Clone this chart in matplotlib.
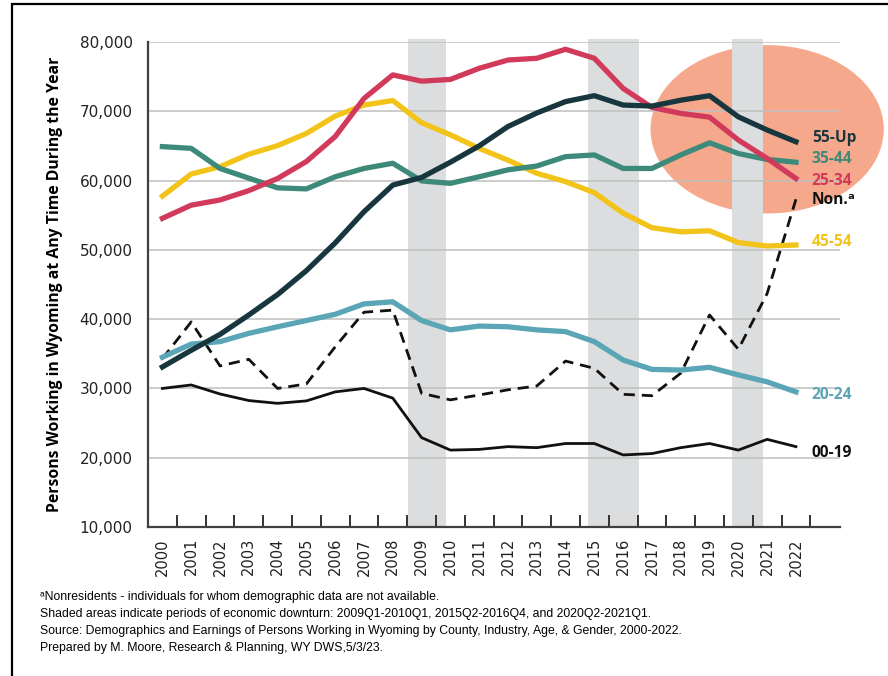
import numpy as np
import matplotlib.pyplot as plt
from matplotlib.patches import Ellipse, Rectangle

years = list(range(2000, 2023))

# persons working at any time during the year, by age group
age_00_19 = [30000, 30500, 29200, 28250, 27850, 28200, 29500, 30000, 28600, 22900,
             21100, 21200, 21600, 21450, 22050, 22050, 20400, 20600, 21450, 22050,
             21100, 22650, 21600]
age_20_24 = [34500, 36400, 36750, 37950, 38900, 39800, 40700, 42200, 42500, 39800,
             38450, 39000, 38900, 38450, 38200, 36750, 34100, 32750, 32650, 33050,
             31950, 30950, 29500]
age_25_34 = [54550, 56450, 57200, 58550, 60300, 62750, 66350, 71850, 75250, 74350,
             74600, 76200, 77400, 77650, 78950, 77650, 73300, 70550, 69700, 69150,
             65850, 63200, 60300]
age_35_44 = [64900, 64650, 61750, 60350, 58950, 58800, 60550, 61750, 62500, 59950,
             59600, 60550, 61550, 62100, 63450, 63700, 61750, 61750, 63700, 65450,
             63900, 63050, 62650]
age_45_54 = [57750, 60950, 62000, 63800, 65050, 66800, 69300, 70900, 71550, 68350,
             66600, 64650, 62950, 61050, 59850, 58250, 55300, 53200, 52600, 52750,
             51050, 50550, 50700]
age_55_up = [33100, 35500, 37800, 40600, 43550, 47000, 51000, 55500, 59350, 60450,
             62650, 65000, 67800, 69750, 71400, 72250, 70900, 70750, 71600, 72250,
             69200, 67300, 65600]
nonres = [34300, 39600, 33250, 34200, 30000, 30650, 36000, 41000, 41300, 29300,
          28350, 29050, 29800, 30350, 33950, 32900, 29150, 28950, 32200, 40600,
          35650, 43700, 57300]

# downturn periods in category units (year index)
downturns = [(8.53, 9.85), (14.78, 16.55), (19.78, 20.85)]

fig = plt.figure(figsize=(8.88, 6.76), dpi=100)
ax = fig.add_axes([148/888, 1-527/676, (840-148)/888, (527-42)/676])

x = np.arange(len(years))

# outer frame
fig.add_artist(Rectangle((12/888, -0.05), 1.0, 1-4/676+0.05, transform=fig.transFigure,
                         fill=False, ec='black', lw=1.6))

# highlight ellipse
ell = Ellipse((21.0, 67400), 8.1, 24300, fc='#F5A88C', ec='none', zorder=0.5, clip_on=False)
ax.add_patch(ell)

for a, b in downturns:
    ax.axvspan(a, b, ymin=0, ymax=1.006, color='#DCDDDF', lw=0, zorder=1, clip_on=False)

ax.set_xlim(-0.5, 23.53)
ax.set_ylim(10000, 80000)
ax.set_yticks(range(10000, 80001, 10000))
ax.set_yticklabels(['{:,}'.format(v) for v in range(10000, 80001, 10000)])
ax.yaxis.grid(True, color='#BFBFBF', lw=1.1, zorder=1.5)
ax.set_axisbelow(False)
ax.tick_params(axis='y', length=0, pad=11, labelsize=11, labelcolor='#222222')

ax.set_xticks(x)
ax.set_xticklabels([str(y) for y in years], rotation=90)
ax.set_xticks(np.arange(0.5, 23, 1), minor=True)
ax.tick_params(axis='x', which='major', length=0, pad=8, labelsize=10.5, labelcolor='#222222')
ax.tick_params(axis='x', which='minor', direction='in', length=9, width=1.4, color='#333333')

for s in ['top', 'right']:
    ax.spines[s].set_visible(False)
for s in ['left', 'bottom']:
    ax.spines[s].set_color('#404040')
    ax.spines[s].set_linewidth(1.6)
    ax.spines[s].set_zorder(3)

ax.plot(x, age_00_19, color='#111111', lw=2.0, zorder=4)
ax.plot(x, nonres, color='#111111', lw=2.0, ls=(0, (4, 2.5)), zorder=4)
ax.plot(x, age_20_24, color='#5AA5B6', lw=3.8, zorder=4)
ax.plot(x, age_45_54, color='#F2C318', lw=3.8, zorder=4)
ax.plot(x, age_35_44, color='#3E8A7A', lw=3.8, zorder=4)
ax.plot(x, age_25_34, color='#D13A5B', lw=3.8, zorder=4)
ax.plot(x, age_55_up, color='#17363D', lw=3.8, zorder=4)

fam = ['Open Sans', 'DejaVu Sans']
lab = dict(fontsize=11.2, fontweight='bold', family=fam, va='center', ha='left')
ax.text(22.55, 66150, '55-Up', color='#17363D', **lab)
ax.text(22.55, 63100, '35-44', color='#3E8A7A', **lab)
ax.text(22.55, 59900, '25-34', color='#D13A5B', **lab)
ax.text(22.55, 57200, 'Non.\u1d43', color='#111111', **lab)
ax.text(22.55, 51100, '45-54', color='#F2C318', **lab)
ax.text(22.55, 29050, '20-24', color='#5AA5B6', **lab)
ax.text(22.55, 20700, '00-19', color='#111111', **lab)

fig.text(55/888, 1-284/676, 'Persons Working in Wyoming at Any Time During the Year',
         rotation=90, ha='center', va='center', fontsize=11.3, fontweight='bold', family=fam)

notes = ['\u1d43Nonresidents - individuals for whom demographic data are not available.',
         'Shaded areas indicate periods of economic downturn: 2009Q1-2010Q1, 2015Q2-2016Q4, and 2020Q2-2021Q1.',
         'Source: Demographics and Earnings of Persons Working in Wyoming by County, Industry, Age, & Gender, 2000-2022.',
         'Prepared by M. Moore, Research & Planning, WY DWS,5/3/23.']
for i, t in enumerate(notes):
    fig.text(40/888, 1-(597+17*i)/676, t, ha='left', va='center', fontsize=8.85,
             family=['Liberation Sans', 'DejaVu Sans'])

fig.savefig('out.png', dpi=100)
